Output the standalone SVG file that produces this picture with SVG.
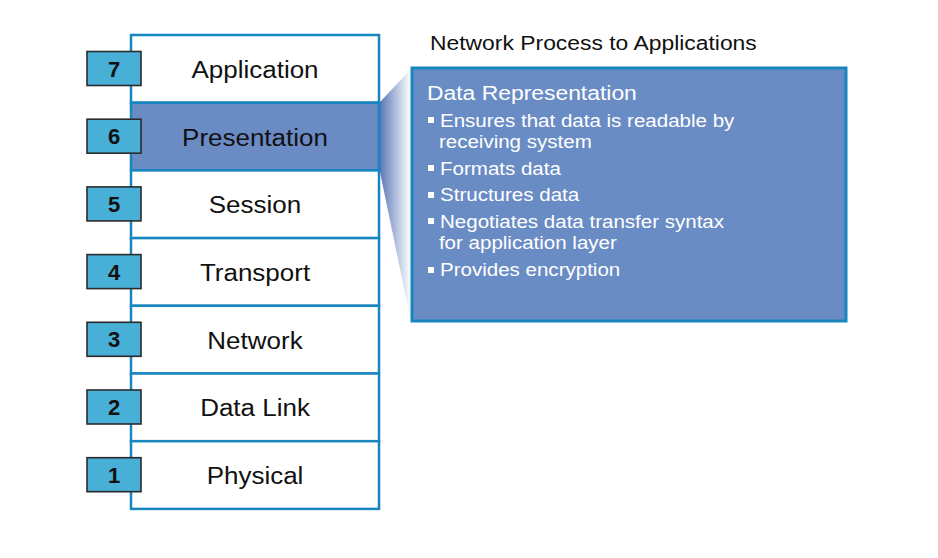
<svg xmlns="http://www.w3.org/2000/svg" width="938" height="558" viewBox="0 0 938 558">
<defs>
<linearGradient id="fun" x1="0" y1="0" x2="1" y2="0">
<stop offset="0" stop-color="#5d77b6"/>
<stop offset="0.55" stop-color="#b7c4e0"/>
<stop offset="1" stop-color="#ffffff"/>
</linearGradient>
</defs>
<style>
.row{fill:#ffffff;stroke:#1786c0;stroke-width:2.5}
.sel{fill:#6a8bc4}
.num{fill:#48afd6;stroke:#2b2b2b;stroke-width:1.6}
.nt{font-family:"Liberation Sans",Arial,sans-serif;font-weight:bold;font-size:22px;fill:#111;text-anchor:middle}
.lt{font-family:"Liberation Sans",Arial,sans-serif;font-size:23px;fill:#111;text-anchor:middle}
.pt{font-family:"Liberation Sans",Arial,sans-serif;font-size:18.5px;fill:#ffffff}
.bl{fill:#ffffff}
</style>
<rect width="938" height="558" fill="#ffffff"/>

<g id="funnel">
<polygon points="380,102 411,69 411,322 380,172" fill="url(#fun)"/>
</g>

<g id="layer7"><rect class="row" x="131" y="35" width="248" height="67.7"/></g>
<g id="layer6"><rect class="row sel" x="131" y="102.7" width="248" height="67.7"/></g>
<g id="layer5"><rect class="row" x="131" y="170.4" width="248" height="67.7"/></g>
<g id="layer4"><rect class="row" x="131" y="238.1" width="248" height="67.7"/></g>
<g id="layer3"><rect class="row" x="131" y="305.8" width="248" height="67.7"/></g>
<g id="layer2"><rect class="row" x="131" y="373.5" width="248" height="67.7"/></g>
<g id="layer1"><rect class="row" x="131" y="441.2" width="248" height="67.7"/></g>

<g id="labels" transform="translate(255,0) scale(1.13,1)">
<text class="lt" x="0" y="78">Application</text>
<text class="lt" x="0" y="145.7">Presentation</text>
<text class="lt" x="0" y="213.4">Session</text>
<text class="lt" x="0" y="281.1">Transport</text>
<text class="lt" x="0" y="348.8">Network</text>
<text class="lt" x="0" y="416.5">Data Link</text>
<text class="lt" x="0" y="484.2">Physical</text>
</g>

<g id="n7"><rect class="num" x="87" y="51.5" width="54" height="34"/><text class="nt" x="114" y="76.5">7</text></g>
<g id="n6"><rect class="num" x="87" y="119.2" width="54" height="34"/><text class="nt" x="114" y="144.2">6</text></g>
<g id="n5"><rect class="num" x="87" y="186.9" width="54" height="34"/><text class="nt" x="114" y="211.9">5</text></g>
<g id="n4"><rect class="num" x="87" y="254.6" width="54" height="34"/><text class="nt" x="114" y="279.6">4</text></g>
<g id="n3"><rect class="num" x="87" y="322.3" width="54" height="34"/><text class="nt" x="114" y="347.3">3</text></g>
<g id="n2"><rect class="num" x="87" y="390" width="54" height="34"/><text class="nt" x="114" y="415">2</text></g>
<g id="n1"><rect class="num" x="87" y="457.7" width="54" height="34"/><text class="nt" x="114" y="482.7">1</text></g>

<g id="title">
<text x="0" y="50" transform="translate(430,0) scale(1.09,1)" font-family="Liberation Sans,Arial,sans-serif" font-size="21" fill="#111">Network Process to Applications</text>
</g>

<g id="panel">
<rect x="412" y="68" width="434" height="253" fill="#6a8cc4" stroke="#1786c0" stroke-width="3"/>
<text x="0" y="100" transform="translate(427,0) scale(1.09,1)" font-family="Liberation Sans,Arial,sans-serif" font-size="21" fill="#ffffff">Data Representation</text>
<rect class="bl" x="428" y="117" width="6" height="6"/>
<rect class="bl" x="428" y="165" width="6" height="6"/>
<rect class="bl" x="428" y="192" width="6" height="6"/>
<rect class="bl" x="428" y="218" width="6" height="6"/>
<rect class="bl" x="428" y="267" width="6" height="6"/>
<g transform="translate(440,0) scale(1.11,1)">
<text class="pt" x="0" y="127">Ensures that data is readable by</text>
<text class="pt" x="-1" y="148.5">receiving system</text>
<text class="pt" x="0" y="175">Formats data</text>
<text class="pt" x="0" y="201.5">Structures data</text>
<text class="pt" x="0" y="228">Negotiates data transfer syntax</text>
<text class="pt" x="-1" y="249.5">for application layer</text>
<text class="pt" x="0" y="276.5">Provides encryption</text>
</g>
</g>
</svg>
